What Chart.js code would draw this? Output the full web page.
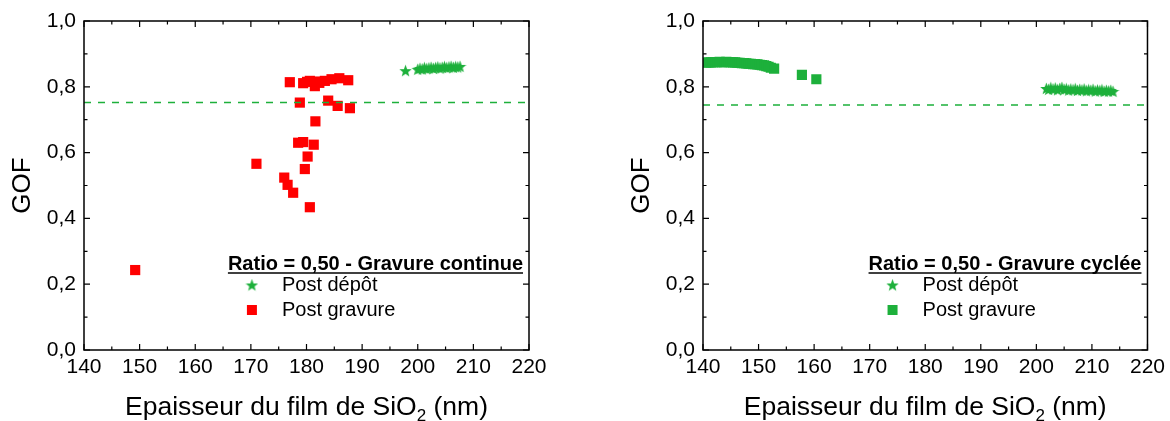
<!DOCTYPE html>
<html>
<head>
<meta charset="utf-8">
<script src="https://cdn.jsdelivr.net/npm/chart.js@4/dist/chart.umd.min.js"></script>
<style>
  html, body { margin: 0; padding: 0; background: #fff; }
  #wrap { position: relative; width: 1170px; height: 421px; }
  .box { position: absolute; top: 0; width: 585px; height: 421px; }
</style>
</head>
<body>
<div id="wrap">
  <div class="box" style="left:0"><canvas id="leftChart" width="585" height="421"></canvas></div>
  <div class="box" style="left:585px"><canvas id="rightChart" width="585" height="421"></canvas></div>
</div>
<script>
// x axis ticks (nm) and y axis ticks (GOF)
const xTicks = [140, 150, 160, 170, 180, 190, 200, 210, 220];
const yTicks = [0.0, 0.2, 0.4, 0.6, 0.8, 1.0];

// Left panel: Gravure continue
const leftTitle = 'Ratio = 0,50 - Gravure continue';
const leftThreshold = 0.752;
const leftDepotX = [197.8, 200.0, 200.4, 200.8, 201.2, 201.6, 202.0, 202.4, 202.8, 203.2, 203.6, 204.0, 204.4,
  204.8, 205.2, 205.6, 206.0, 206.4, 206.8, 207.2, 207.6];
const leftDepotY = [0.849, 0.853, 0.856, 0.854, 0.858, 0.855, 0.857, 0.859, 0.856, 0.858, 0.860, 0.857, 0.859,
  0.861, 0.858, 0.860, 0.862, 0.859, 0.861, 0.860, 0.862];
const leftGravureX = [149.2, 171.0, 176.0, 176.6, 177.6, 177.0, 178.5, 178.8, 179.4, 179.4, 179.7, 180.2, 180.6,
  180.6, 181.3, 181.5, 181.6, 181.8, 182.3, 183.3, 183.9, 184.5, 185.6, 185.9, 187.5, 187.8, 180.1];
const leftGravureY = [0.243, 0.566, 0.524, 0.502, 0.478, 0.814, 0.630, 0.752, 0.632, 0.811, 0.550, 0.588, 0.434,
  0.818, 0.624, 0.802, 0.695, 0.816, 0.812, 0.818, 0.758, 0.823, 0.742, 0.826, 0.820, 0.735, 0.815];

// Right panel: Gravure cyclée
const rightTitle = 'Ratio = 0,50 - Gravure cyclée';
const rightThreshold = 0.745;
const rightDepotX = [201.8, 202.2, 202.6, 203.0, 203.4, 203.8, 204.2, 204.6, 205.0, 205.4, 205.8, 206.2, 206.6,
  207.0, 207.4, 207.8, 208.2, 208.6, 209.0, 209.4, 209.8, 210.2, 210.6, 211.0, 211.4, 211.8, 212.2, 212.6,
  213.0, 213.4, 213.8];
const rightDepotY = [0.795, 0.792, 0.797, 0.793, 0.796, 0.791, 0.795, 0.798, 0.792, 0.794, 0.790, 0.793, 0.791,
  0.794, 0.789, 0.792, 0.790, 0.793, 0.788, 0.791, 0.789, 0.792, 0.787, 0.790, 0.788, 0.791, 0.786, 0.789,
  0.787, 0.789, 0.786];
const rightGravureX = [140.6, 141.0, 141.4, 141.8, 142.2, 142.6, 143.0, 143.4, 143.8, 144.2, 144.6, 145.0, 145.4,
  145.8, 146.2, 146.6, 147.0, 147.4, 147.8, 148.2, 148.6, 149.0, 149.4, 149.8, 150.2, 150.6, 151.0, 151.4,
  151.8, 152.2, 152.8, 157.8, 160.4];
const rightGravureY = [0.873, 0.874, 0.874, 0.875, 0.875, 0.875, 0.876, 0.875, 0.875, 0.876, 0.875, 0.875, 0.874,
  0.874, 0.873, 0.873, 0.872, 0.872, 0.871, 0.870, 0.870, 0.869, 0.869, 0.868, 0.867, 0.866, 0.865, 0.863,
  0.861, 0.858, 0.855, 0.836, 0.823];

const GREEN = '#1db03b';
const RED = '#ff0000';
const FONT = "'Liberation Sans', Arial, sans-serif";

function toPoints(xs, ys) {
  return xs.map((x, i) => ({ x: x, y: ys[i] }));
}

// filled five point star used as point style
function makeStar(size, color) {
  const c = document.createElement('canvas');
  c.width = size; c.height = size;
  const g = c.getContext('2d');
  const cx = size / 2, cy = size / 2 + 0.6, ro = size / 2, ri = ro * 0.42;
  g.beginPath();
  for (let i = 0; i < 10; i++) {
    const r = i % 2 ? ri : ro;
    const a = -Math.PI / 2 + i * Math.PI / 5;
    g.lineTo(cx + r * Math.cos(a), cy + r * Math.sin(a));
  }
  g.closePath();
  g.fillStyle = color;
  g.fill();
  return c;
}
const starImg = makeStar(13, GREEN);
const starLegend = makeStar(13, GREEN);

// frame, inward ticks, axis titles and legend
const decorPlugin = {
  id: 'decor',
  afterDraw(chart, args, opts) {
    const ctx = chart.ctx;
    const a = chart.chartArea;
    const xs = chart.scales.x, ys = chart.scales.y;
    ctx.save();
    ctx.strokeStyle = '#000';
    ctx.lineWidth = 1.5;
    ctx.strokeRect(a.left, a.top, a.right - a.left, a.bottom - a.top);

    ctx.lineWidth = 1.2;
    ctx.beginPath();
    for (let v = 140; v <= 220; v += 5) {
      const px = xs.getPixelForValue(v);
      const len = v % 10 === 0 ? 6 : 3.5;
      ctx.moveTo(px, a.bottom); ctx.lineTo(px, a.bottom - len);
      ctx.moveTo(px, a.top); ctx.lineTo(px, a.top + len);
    }
    for (let k = 0; k <= 10; k++) {
      const py = ys.getPixelForValue(k / 10);
      const len = k % 2 === 0 ? 6 : 3.5;
      ctx.moveTo(a.left, py); ctx.lineTo(a.left + len, py);
      ctx.moveTo(a.right, py); ctx.lineTo(a.right - len, py);
    }
    ctx.stroke();

    // y title
    ctx.fillStyle = '#000';
    ctx.font = '26px ' + FONT;
    ctx.textAlign = 'center';
    ctx.textBaseline = 'middle';
    ctx.save();
    ctx.translate(a.left - 62, (a.top + a.bottom) / 2);
    ctx.rotate(-Math.PI / 2);
    ctx.fillText('GOF', 0, 1);
    ctx.restore();

    // x title with subscript
    const main = 'Epaisseur du film de SiO';
    const tail = ' (nm)';
    ctx.font = '26.5px ' + FONT;
    const w1 = ctx.measureText(main).width;
    const w3 = ctx.measureText(tail).width;
    ctx.font = '17px ' + FONT;
    const w2 = ctx.measureText('2').width;
    let x0 = (a.left + a.right) / 2 - (w1 + w2 + w3) / 2;
    const base = 415;
    ctx.textAlign = 'left';
    ctx.textBaseline = 'alphabetic';
    ctx.font = '26.5px ' + FONT;
    ctx.fillText(main, x0, base);
    ctx.font = '17px ' + FONT;
    ctx.fillText('2', x0 + w1, base + 6);
    ctx.font = '26.5px ' + FONT;
    ctx.fillText(tail, x0 + w1 + w2, base);

    // legend
    ctx.font = 'bold 20px ' + FONT;
    const tw = ctx.measureText(opts.title).width;
    const tx = a.right - 6 - tw;
    ctx.textBaseline = 'middle';
    ctx.fillText(opts.title, tx, 264);
    ctx.lineWidth = 1.5;
    ctx.beginPath();
    ctx.moveTo(tx, 273); ctx.lineTo(tx + tw, 273);
    ctx.stroke();

    ctx.font = '20px ' + FONT;
    ctx.drawImage(starLegend, tx + 24 - 6.5, 285 - 6.5);
    ctx.fillText('Post dépôt', tx + 54, 285);
    ctx.fillStyle = opts.squareColor;
    ctx.fillRect(tx + 24 - 5, 310 - 5, 10, 10);
    ctx.fillStyle = '#000';
    ctx.fillText('Post gravure', tx + 54, 310);
    ctx.restore();
  }
};

function makeChart(id, padLeft, padRight, depot, gravure, squareColor, threshold, title) {
  const ctx = document.getElementById(id).getContext('2d');
  return new Chart(ctx, {
    type: 'scatter',
    data: {
      datasets: [
        {
          type: 'line',
          data: [{ x: 140, y: threshold }, { x: 220, y: threshold }],
          borderColor: GREEN,
          borderWidth: 1.5,
          borderDash: [7, 7],
          pointRadius: 0,
          fill: false
        },
        {
          label: 'Post dépôt',
          data: depot,
          pointStyle: starImg,
          pointRadius: 6,
          backgroundColor: GREEN,
          borderColor: GREEN
        },
        {
          label: 'Post gravure',
          data: gravure,
          pointStyle: 'rect',
          pointRadius: 7.2,
          borderWidth: 0,
          backgroundColor: squareColor,
          borderColor: squareColor
        }
      ]
    },
    options: {
      responsive: false,
      animation: false,
      layout: { padding: { left: padLeft, right: padRight, top: 21, bottom: 0 } },
      scales: {
        x: {
          type: 'linear',
          min: 140,
          max: 220,
          afterFit: s => { s.height = 71; },
          afterBuildTicks: s => { s.ticks = xTicks.map(v => ({ value: v })); },
          grid: { display: false, drawTicks: false },
          border: { display: false },
          ticks: { color: '#000', padding: 5, font: { size: 21, family: FONT }, maxRotation: 0 }
        },
        y: {
          min: 0,
          max: 1,
          afterFit: s => { s.width = 84; },
          afterBuildTicks: s => { s.ticks = yTicks.map(v => ({ value: v })); },
          grid: { display: false, drawTicks: false },
          border: { display: false },
          ticks: {
            color: '#000',
            padding: 8,
            font: { size: 21, family: FONT },
            callback: v => v.toFixed(1).replace('.', ',')
          }
        }
      },
      plugins: {
        legend: { display: false },
        tooltip: { enabled: false },
        decor: { title: title, squareColor: squareColor }
      }
    },
    plugins: [decorPlugin]
  });
}

makeChart('leftChart', 0, 56, toPoints(leftDepotX, leftDepotY), toPoints(leftGravureX, leftGravureY),
  RED, leftThreshold, leftTitle);
makeChart('rightChart', 34, 22, toPoints(rightDepotX, rightDepotY), toPoints(rightGravureX, rightGravureY),
  GREEN, rightThreshold, rightTitle);
</script>
</body>
</html>
